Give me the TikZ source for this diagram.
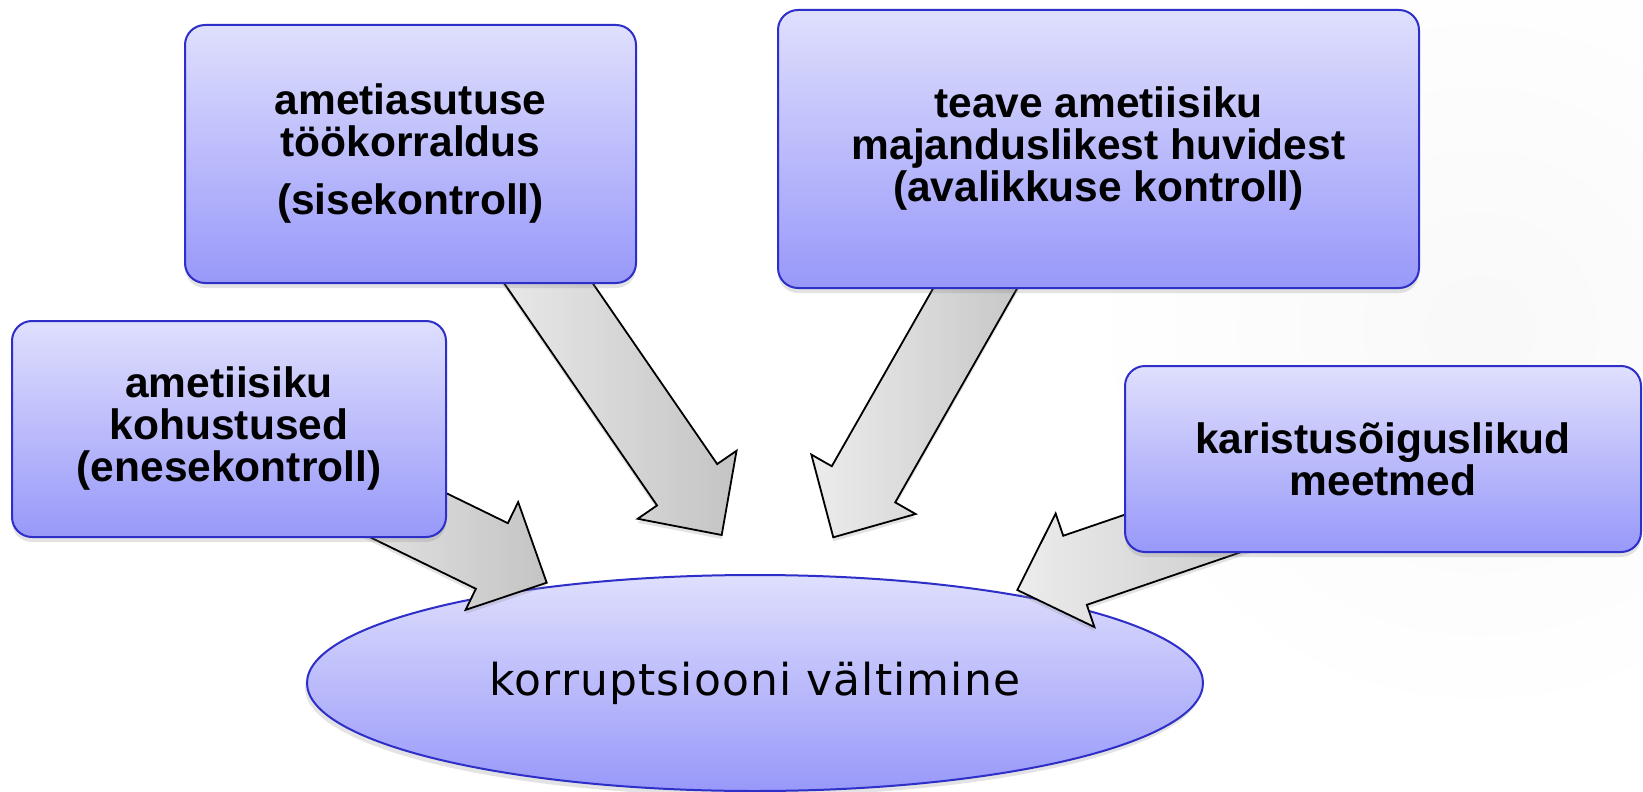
\documentclass[tikz,border=0pt]{standalone}
\usepackage{fontspec}
\setmainfont{Liberation Sans}
\newfontfamily\ellfont[LetterSpace=2.5]{DejaVu Sans}
\usetikzlibrary{calc,shadows,shapes.geometric}
\pgfdeclarelayer{bottom}
\pgfdeclarelayer{arrows}
\pgfsetlayers{bottom,arrows,main}
\definecolor{boxtop}{RGB}{223,223,253}
\definecolor{boxbot}{RGB}{152,152,250}
\definecolor{boxline}{RGB}{46,46,200}
\definecolor{arrlight}{RGB}{236,236,236}
\definecolor{arrdark}{RGB}{196,196,196}
\tikzset{
  topic/.style={rectangle, rounded corners=10pt, draw=boxline, line width=1pt,
    top color=boxtop, bottom color=boxbot, align=center, inner sep=0pt,
    font=\bfseries\fontsize{21.25pt}{21pt}\selectfont,
    drop shadow={shadow xshift=0pt, shadow yshift=-2.5pt, opacity=0.22}},
  goal/.style={ellipse, draw=boxline, line width=1pt, inner sep=0pt,
    top color=boxtop, bottom color=boxbot,
    font=\ellfont\fontsize{22pt}{24pt}\selectfont,
    drop shadow={shadow xshift=-1pt, shadow yshift=-2.5pt, opacity=0.22}},
  fatarrow/.style={draw=black, line width=0.9pt, line join=miter,
    left color=arrlight, right color=arrdark,
    drop shadow={shadow xshift=0pt, shadow yshift=-2pt, opacity=0.22}}
}
\newcommand\fatarrowpath[2]{%
  \coordinate (#2h) at ($(#2)!30.5pt!(#1)$);
  \path[fatarrow] ($(#1)!18.25pt!90:(#2)$) -- ($(#2h)!18.25pt!90:(#2)$)
    -- ($(#2h)!30pt!90:(#2)$) -- (#2) -- ($(#2h)!30pt!-90:(#2)$)
    -- ($(#2h)!18.25pt!-90:(#2)$) -- ($(#1)!18.25pt!-90:(#2)$) -- cycle;}
\begin{document}
\begin{tikzpicture}[x=0.5pt,y=-0.5pt]
\useasboundingbox (0,0) rectangle (1643,792);
\begin{pgfonlayer}{bottom}
  \fill[white] (0,0) rectangle (1643,792);
  \shade[inner color=black!2.5, outer color=white] (1480,330) circle [radius=400];
\end{pgfonlayer}

\node[topic, minimum width=225.5pt, minimum height=129pt] (b1) at (410.5,154)
  {ametiasutuse\\töökorraldus\\[8pt](sisekontroll)};
\node[topic, minimum width=320.5pt, minimum height=139pt] (b2) at (1098.5,149)
  {teave ametiisiku\\majanduslikest huvidest\\(avalikkuse kontroll)};
\node[topic, minimum width=217pt, minimum height=108pt] (b3) at (229,429)
  {ametiisiku\\kohustused\\(enesekontroll)};
\node[topic, minimum width=258pt, minimum height=93pt] (b4) at (1383,459)
  {karistusõiguslikud\\meetmed};

\begin{pgfonlayer}{bottom}
  \node[goal, minimum width=448pt, minimum height=108pt] (goal) at (755,683)
    {korruptsiooni vältimine};
\end{pgfonlayer}

\coordinate (sA) at ($(b3.center)+(84,39.8)$);
\coordinate (sB) at ($(b1.center)+(95.7,67.9)$);
\coordinate (sC) at ($(b2.center)+(-91.9,84.2)$);
\coordinate (sD) at ($(b4.center)+(-82,34.1)$);
\coordinate (tA) at ($(goal.center)+(-208.3,-100.3)$);
\coordinate (tB) at ($(goal.center)+(-33.3,-148)$);
\coordinate (tC) at ($(goal.center)+(78.3,-145.7)$);
\coordinate (tD) at ($(goal.center)+(262.3,-93)$);

\begin{pgfonlayer}{arrows}
  \fatarrowpath{sA}{tA}
  \fatarrowpath{sB}{tB}
  \fatarrowpath{sC}{tC}
  \fatarrowpath{sD}{tD}
\end{pgfonlayer}
\end{tikzpicture}
\end{document}
